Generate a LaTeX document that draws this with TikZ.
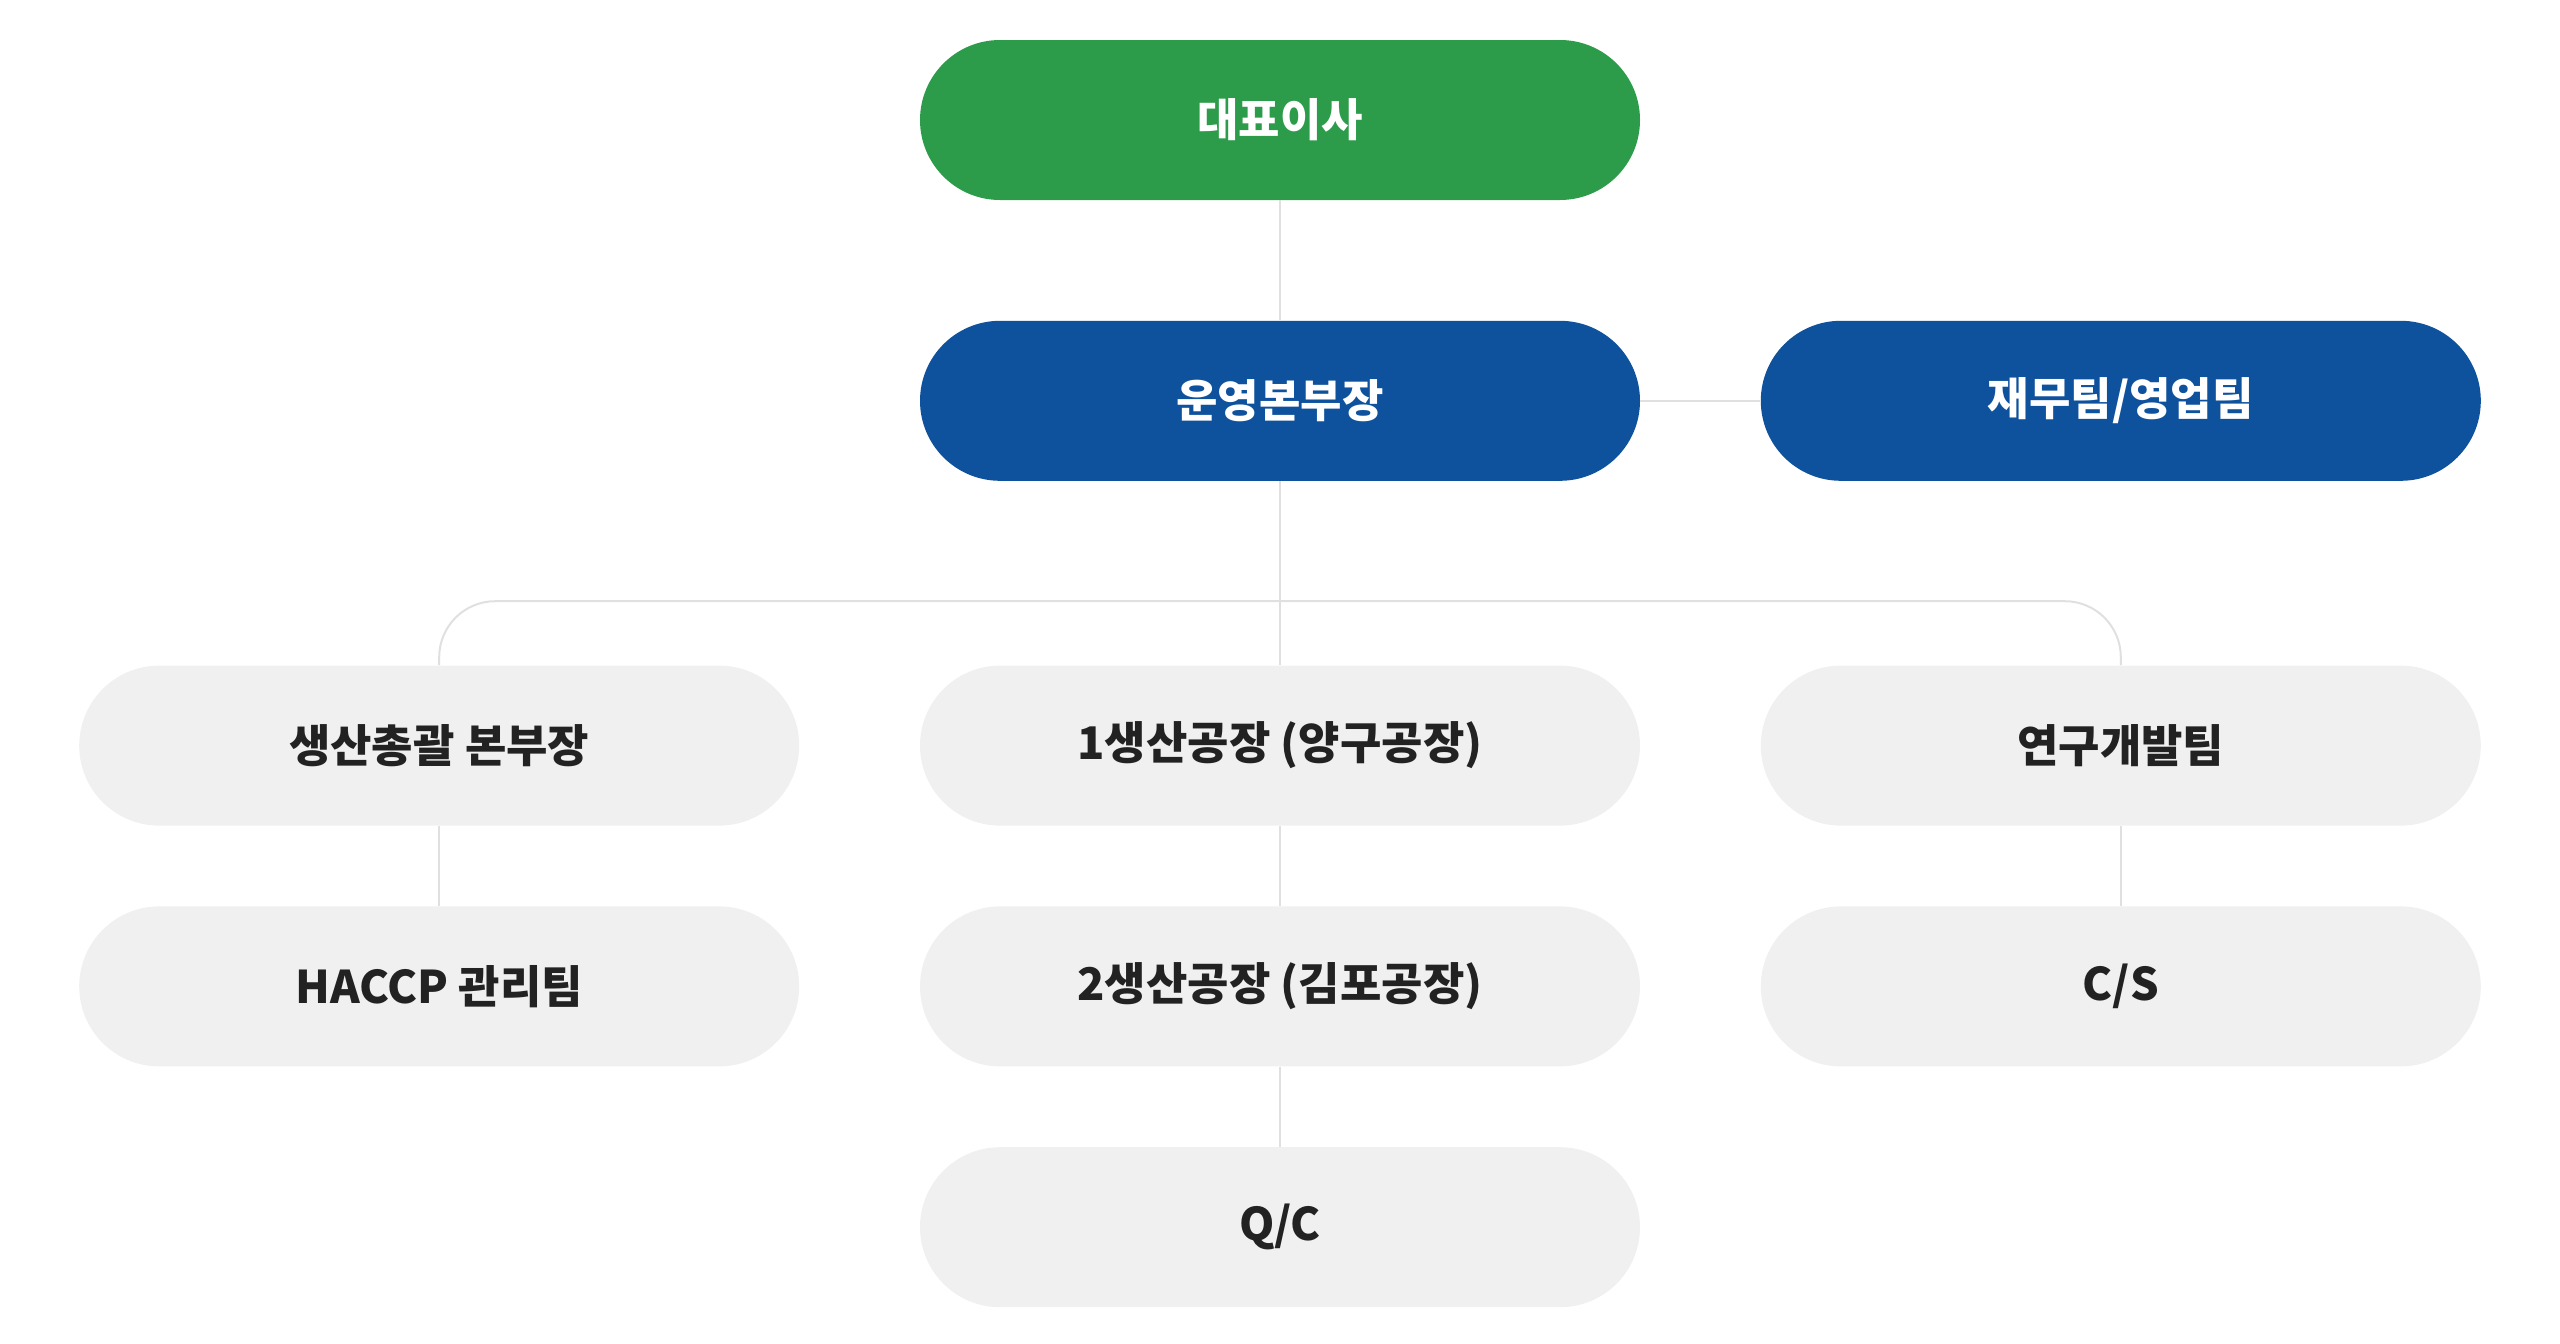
\documentclass[tikz,border=0pt]{standalone}
\usepackage{fontspec}
\setmainfont{Noto Sans CJK KR}
\usetikzlibrary{positioning}
\definecolor{ceogreen}{HTML}{2C9C4A}
\definecolor{execblue}{HTML}{0E519D}
\definecolor{teamgray}{HTML}{F0F0F0}
\definecolor{linkgray}{HTML}{E0E0E0}
\definecolor{textdark}{HTML}{222222}
\begin{document}
\begin{tikzpicture}
  [x=0.5pt,y=-0.5pt,
   every node/.style={rounded corners=40pt,minimum width=360pt,minimum height=80pt,
     inner sep=0pt,font=\fontsize{22.5}{25}\selectfont\bfseries},
   ceo/.style={fill=ceogreen,text=white},
   exec/.style={fill=execblue,text=white},
   team/.style={fill=teamgray,text=textdark},
   link/.style={draw=linkgray,line width=1pt}]
  \useasboundingbox (0,0) rectangle (2560,1344);
  \node[ceo] (ceo) at (1280,120) {대표이사};
  \node[exec,below=60pt of ceo] (ops) {운영본부장};
  \node[exec,right=60pt of ops] (sales) {재무팀/영업팀};
  \node[team,below=92pt of ops] (plant1) {1생산공장 (양구공장)};
  \node[team,left=60pt of plant1] (prod) {생산총괄 본부장};
  \node[team,right=60pt of plant1] (rnd) {연구개발팀};
  \node[team,below=40pt of prod] (haccp) {HACCP 관리팀};
  \node[team,below=40pt of plant1] (plant2) {2생산공장 (김포공장)};
  \node[team,below=40pt of rnd] (cs) {C/S};
  \node[team,below=40pt of plant2] (qc) {Q/C};
  \draw[link] (ceo) -- (ops);
  \draw[link] (ops) -- (sales);
  \draw[link] (ops) -- (plant1);
  \draw[link,rounded corners=28pt] (prod.north) |- ([yshift=32pt]plant1.north) -| (rnd.north);
  \draw[link] (prod) -- (haccp);
  \draw[link] (plant1) -- (plant2);
  \draw[link] (plant2) -- (qc);
  \draw[link] (rnd) -- (cs);
\end{tikzpicture}
\end{document}
